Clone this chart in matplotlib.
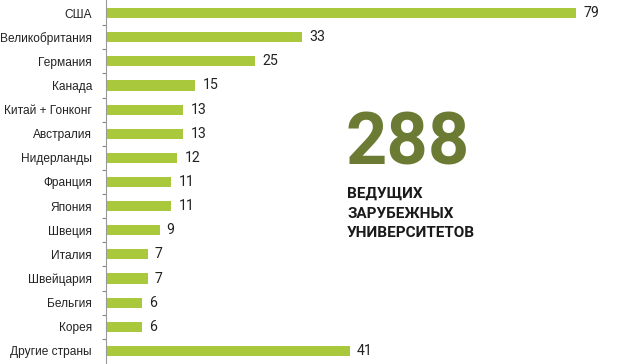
import matplotlib
matplotlib.use("Agg")
import matplotlib.pyplot as plt

countries = ["США", "Великобритания", "Германия", "Канада", "Китай + Гонконг",
             "Австралия", "Нидерланды", "Франция", "Япония", "Швеция",
             "Италия", "Швейцария", "Бельгия", "Корея", "Другие страны"]
values = [79, 33, 25, 15, 13, 13, 12, 11, 11, 9, 7, 7, 6, 6, 41]
total_label = "288"
subtitle_lines = ["ВЕДУЩИХ", "ЗАРУБЕЖНЫХ", "УНИВЕРСИТЕТОВ"]

bar_color = "#a9c83c"
big_color = "#6b7b34"

fig = plt.figure(figsize=(6.42, 3.64), dpi=100)
ax = fig.add_axes([106/642, 0, 1 - 106/642, 1])

y = list(range(len(countries)))
ax.barh(y, values, height=0.42, color=bar_color, left=0)
ax.set_xlim(0, (642 - 106) / 5.95)
ax.set_ylim(14.54, -0.54)

for yi, v in zip(y, values):
    ax.text(v + 1.2, yi, str(v), va="center", ha="left", fontsize=10.2,
            color="#222222", family="Roboto")

ax.set_yticks(y)
ax.set_yticklabels(countries, fontsize=8.6, color="#222222", family="Liberation Sans")
ax.tick_params(axis="y", which="major", length=0, pad=10)
ax.set_yticks([i + 0.5 for i in y[:-1]], minor=True)
ax.tick_params(axis="y", which="minor", length=3, width=0.8, color="#888888")
ax.set_xticks([])
for s in ["top", "right", "bottom"]:
    ax.spines[s].set_visible(False)
ax.spines["left"].set_color("#999999")
ax.spines["left"].set_linewidth(0.8)

fig.text(345/642, 1 - 165/364, total_label, fontsize=52, fontweight="bold",
         color=big_color, family="Roboto", ha="left", va="baseline")
for i, line in enumerate(subtitle_lines):
    fig.text(347/642, 1 - (198 + i * 19.5)/364, line, fontsize=11,
             fontweight="bold", color="#1a1a1a", family="Roboto",
             ha="left", va="baseline")

fig.savefig("out.png", dpi=100)
